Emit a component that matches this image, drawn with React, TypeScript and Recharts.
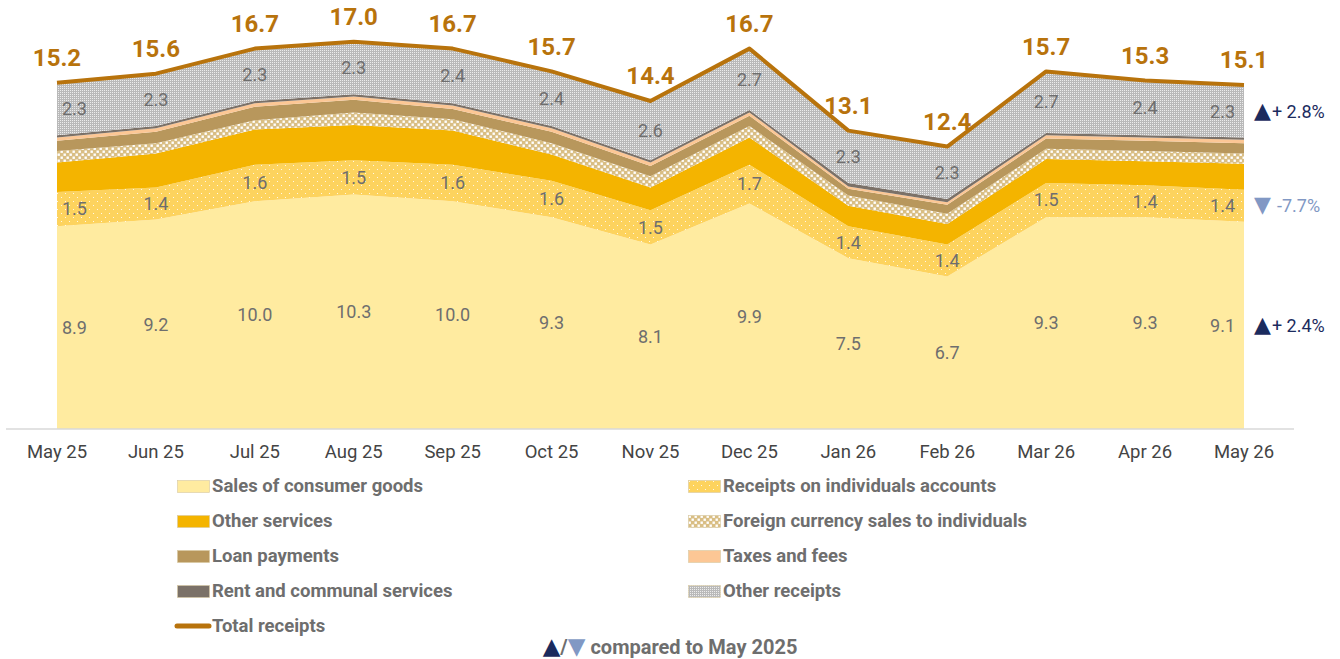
import { ComposedChart, Area, Line, XAxis, YAxis } from 'recharts'

const months = ['May 25', 'Jun 25', 'Jul 25', 'Aug 25', 'Sep 25', 'Oct 25', 'Nov 25', 'Dec 25', 'Jan 26', 'Feb 26', 'Mar 26', 'Apr 26', 'May 26']
const sales = [8.9, 9.2, 10.0, 10.3, 10.0, 9.3, 8.1, 9.9, 7.5, 6.7, 9.3, 9.3, 9.1]
const receipts = [1.5, 1.4, 1.6, 1.5, 1.6, 1.6, 1.5, 1.7, 1.4, 1.4, 1.5, 1.4, 1.4]
const otherServices = [1.3, 1.5, 1.55, 1.55, 1.5, 1.15, 1.0, 1.2, 0.9, 0.9, 1.05, 1.05, 1.15]
const foreignCurrency = [0.5, 0.45, 0.4, 0.55, 0.5, 0.5, 0.5, 0.5, 0.45, 0.45, 0.45, 0.45, 0.45]
const loanPayments = [0.45, 0.5, 0.6, 0.55, 0.45, 0.5, 0.45, 0.45, 0.3, 0.4, 0.45, 0.45, 0.45]
const taxes = [0.15, 0.15, 0.15, 0.15, 0.15, 0.15, 0.15, 0.15, 0.1, 0.1, 0.15, 0.15, 0.15]
const rent = [0.1, 0.1, 0.1, 0.1, 0.1, 0.1, 0.1, 0.1, 0.15, 0.15, 0.1, 0.1, 0.1]
const otherReceipts = [2.3, 2.3, 2.3, 2.3, 2.4, 2.4, 2.6, 2.7, 2.3, 2.3, 2.7, 2.4, 2.3]
const total = [15.2, 15.6, 16.7, 17.0, 16.7, 15.7, 14.4, 16.7, 13.1, 12.4, 15.7, 15.3, 15.1]

// change vs May 2025, shown right of the last point
const changeSales = { up: true, text: '+ 2.4%' }
const changeReceipts = { up: false, text: '-7.7%' }
const changeOther = { up: true, text: '+ 2.8%' }

const W = 1340
const H = 659
const TOP = 19
const BASE = 429
const Y_MAX = 18
const PX = (BASE - TOP) / Y_MAX

const FONT = 'Roboto, "Noto Sans", sans-serif'
const TRI_FONT = '"DejaVu Sans", sans-serif'
const GREY = '#6e6e6e'
const NAVY = '#1b2b5e'
const LIGHT_BLUE = '#8198c4'
const TOTAL_COLOR = '#b8730c'

const data = months.map((m, i) => ({
  month: m,
  sales: sales[i],
  receipts: receipts[i],
  otherServices: otherServices[i],
  foreignCurrency: foreignCurrency[i],
  loanPayments: loanPayments[i],
  taxes: taxes[i],
  rent: rent[i],
  otherReceipts: otherReceipts[i],
  total: total[i],
}))

type Change = { up: boolean; text: string }

function bandLabel(series: number[], change?: Change) {
  return (props: any) => {
    const { x, y, index } = props
    if (x == null || y == null || index == null) return null
    const v = series[index]
    const cy = y + (v * PX) / 2
    const last = index === series.length - 1
    const first = index === 0
    let tx = x
    let anchor: 'start' | 'middle' | 'end' = 'middle'
    if (first) {
      tx = x + 5
      anchor = 'start'
    } else if (last) {
      tx = x - 9
      anchor = 'end'
    }
    return (
      <g key={`lbl-${index}`}>
        <text x={tx} y={cy} dy="0.35em" textAnchor={anchor} fontSize={18} fill={GREY} fontFamily={FONT}>
          {v.toFixed(1)}
        </text>
        {last && change ? (
          <text x={x + 10} y={cy + 6.5} fontSize={18} fontFamily={FONT} fill={change.up ? NAVY : LIGHT_BLUE}>
            <tspan fontSize={22} fontFamily={TRI_FONT}>{change.up ? '▲' : '▼'}</tspan>
            <tspan dx={change.up ? 1 : 6}>{change.text}</tspan>
          </text>
        ) : null}
      </g>
    )
  }
}

function totalLabel(props: any) {
  const { x, y, index } = props
  if (x == null || y == null) return null
  return (
    <text key={`tot-${index}`} x={x} y={y - 25} dy="0.35em" textAnchor="middle" fontSize={24} fontWeight={700} fill={TOTAL_COLOR} fontFamily={FONT}>
      {total[index].toFixed(1)}
    </text>
  )
}

function Patterns() {
  return (
    <defs>
      <pattern id="patReceipts" width="8" height="8" patternUnits="userSpaceOnUse">
        <rect width="8" height="8" fill="#fdd35e" />
        <rect x="1" y="1" width="1" height="1" fill="#fff" opacity="0.85" />
        <rect x="5" y="5" width="1" height="1" fill="#fff" opacity="0.85" />
      </pattern>
      <pattern id="patForeign" width="6" height="6" patternUnits="userSpaceOnUse">
        <rect width="6" height="6" fill="#d9be84" />
        <rect x="0.5" y="0.5" width="2.4" height="2.4" fill="#fff" />
        <rect x="3.5" y="3.5" width="2.4" height="2.4" fill="#fff" />
      </pattern>
      <pattern id="patOther" width="2" height="2" patternUnits="userSpaceOnUse">
        <rect width="2" height="2" fill="#b9b9b9" />
        <rect x="0" y="0" width="1" height="1" fill="#ececec" />
      </pattern>
    </defs>
  )
}

const legendItems = [
  { name: 'Sales of consumer goods', fill: '#ffeba0', col: 0 },
  { name: 'Receipts on individuals accounts', fill: 'url(#patReceipts)', col: 1 },
  { name: 'Other services', fill: '#f4b400', col: 0 },
  { name: 'Foreign currency sales to individuals', fill: 'url(#patForeign)', col: 1 },
  { name: 'Loan payments', fill: '#b8975c', col: 0 },
  { name: 'Taxes and fees', fill: '#fcc795', col: 1 },
  { name: 'Rent and communal services', fill: '#7b7168', col: 0 },
  { name: 'Other receipts', fill: 'url(#patOther)', col: 1 },
]

const legendText = {
  position: 'absolute' as const,
  height: 22,
  display: 'flex',
  alignItems: 'center',
  fontFamily: FONT,
  fontWeight: 700,
  fontSize: 18.5,
  color: GREY,
  whiteSpace: 'nowrap' as const,
}

function LegendBlock() {
  const rows = [486, 486, 521, 521, 556, 556, 591, 591]
  return (
    <>
      {legendItems.map((it, i) => (
        <div key={it.name} style={{ ...legendText, left: it.col === 0 ? 177 : 688, top: rows[i] - 11 }}>
          <svg width={33} height={13} style={{ marginRight: 2 }}>
            <rect x={0.5} y={0.5} width={32} height={12} fill={it.fill} stroke="#d8c8a0" strokeWidth={0.6} />
          </svg>
          {it.name}
        </div>
      ))}
      <div style={{ ...legendText, left: 174, top: 626 - 11 }}>
        <svg width={38} height={8}>
          <line x1={3} y1={4} x2={35} y2={4} stroke={TOTAL_COLOR} strokeWidth={5} strokeLinecap="round" />
        </svg>
        Total receipts
      </div>
      <div
        style={{
          position: 'absolute',
          left: 0,
          width: 1340,
          top: 646 - 14,
          height: 28,
          textAlign: 'center',
          fontFamily: FONT,
          fontWeight: 700,
          fontSize: 20,
          color: GREY,
          lineHeight: '28px',
        }}
      >
        <span style={{ color: NAVY, fontSize: 23, fontFamily: TRI_FONT, fontWeight: 400 }}>▲</span>
        <span>/</span>
        <span style={{ color: LIGHT_BLUE, fontSize: 23, fontFamily: TRI_FONT, fontWeight: 400 }}>▼</span> compared to May 2025
      </div>
    </>
  )
}

export default function App() {
  return (
    <div style={{ position: 'absolute', left: 0, top: 0, width: W, height: H, background: '#fff' }}>
      <ComposedChart
        width={W}
        height={H}
        data={data}
        margin={{ top: TOP, right: W - 1294, left: 6, bottom: H - BASE - 30 }}
      >
        <Patterns />
        <XAxis
          dataKey="month"
          height={30}
          padding={{ left: 51, right: 50 }}
          tickLine={false}
          tickMargin={10}
          axisLine={{ stroke: '#d9d9d9', strokeWidth: 1.5 }}
          tick={{ fontSize: 18.5, fill: '#444', fontFamily: FONT }}
          interval={0}
        />
        <YAxis hide domain={[0, Y_MAX]} />
        <Area dataKey="sales" stackId="a" type="linear" fill="#ffeba0" fillOpacity={1} stroke="none" isAnimationActive={false} label={bandLabel(sales, changeSales)} />
        <Area dataKey="receipts" stackId="a" type="linear" fill="url(#patReceipts)" fillOpacity={1} stroke="none" isAnimationActive={false} label={bandLabel(receipts, changeReceipts)} />
        <Area dataKey="otherServices" stackId="a" type="linear" fill="#f4b400" fillOpacity={1} stroke="none" isAnimationActive={false} />
        <Area dataKey="foreignCurrency" stackId="a" type="linear" fill="url(#patForeign)" fillOpacity={1} stroke="none" isAnimationActive={false} />
        <Area dataKey="loanPayments" stackId="a" type="linear" fill="#b8975c" fillOpacity={1} stroke="none" isAnimationActive={false} />
        <Area dataKey="taxes" stackId="a" type="linear" fill="#fcc795" fillOpacity={1} stroke="none" isAnimationActive={false} />
        <Area dataKey="rent" stackId="a" type="linear" fill="#7b7168" fillOpacity={1} stroke="none" isAnimationActive={false} />
        <Area dataKey="otherReceipts" stackId="a" type="linear" fill="url(#patOther)" fillOpacity={1} stroke="none" isAnimationActive={false} label={bandLabel(otherReceipts, changeOther)} />
        <Line dataKey="total" type="linear" stroke={TOTAL_COLOR} strokeWidth={4} strokeLinejoin="round" dot={false} isAnimationActive={false} label={totalLabel} />
      </ComposedChart>
      <LegendBlock />
    </div>
  )
}
